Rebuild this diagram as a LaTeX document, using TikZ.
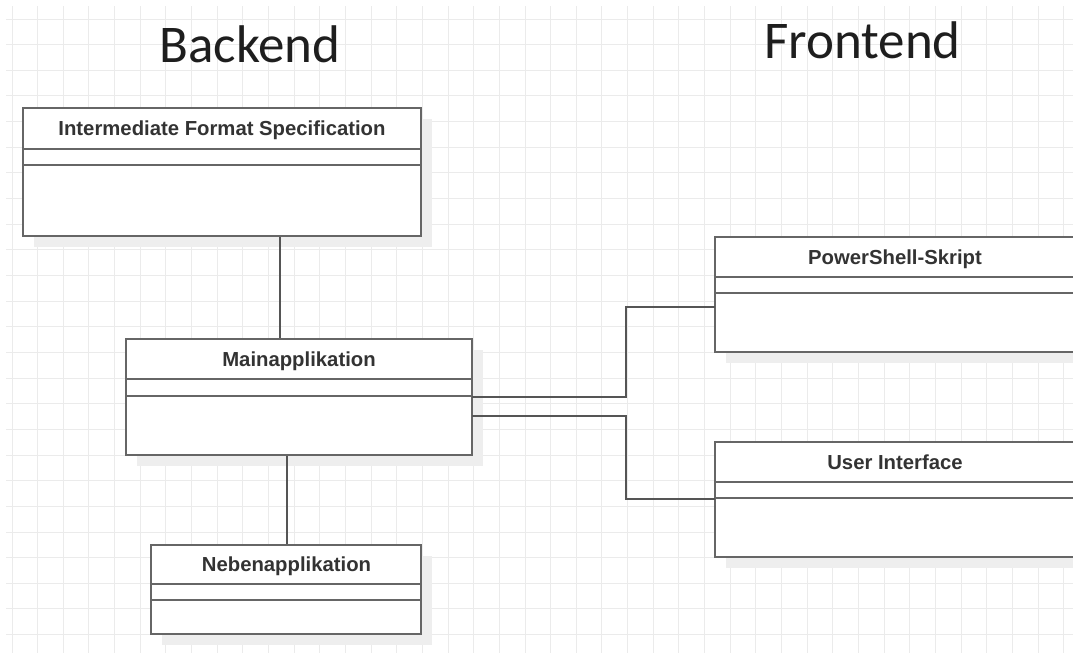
\documentclass[tikz,border=0pt]{standalone}
\usepackage{fontspec}
\setmainfont{Liberation Sans}
\newfontfamily\titlefont{Carlito}
\usetikzlibrary{calc}
\definecolor{gridc}{HTML}{EBEBEB}
\definecolor{boxc}{HTML}{666666}
\definecolor{connc}{HTML}{555555}
\definecolor{shadowc}{HTML}{EEEEEE}
\definecolor{txtc}{HTML}{333333}
\definecolor{titlec}{HTML}{1E1E1E}
\tikzset{
  clsbox/.style={draw=boxc, line width=2.3pt, fill=white, anchor=north west, inner sep=0pt, outer sep=0pt},
  shadowbox/.style={fill=shadowc, draw=none, anchor=north west, inner sep=0pt, outer sep=0pt},
  divider/.style={draw=boxc, line width=2pt},
  conn/.style={draw=connc, line width=2pt},
  clslabel/.style={font=\fontsize{20.3}{24}\selectfont\bfseries, text=txtc, anchor=base, inner sep=0pt},
  titlelabel/.style={font=\titlefont\fontsize{53}{60}\selectfont, text=titlec, anchor=base, inner sep=0pt}
}
\begin{document}
\begin{tikzpicture}[x=1pt,y=-1pt]
\useasboundingbox (0,0) rectangle (1073,653);
\clip (0,0) rectangle (1073,653);
\fill[white] (0,0) rectangle (1073,653);
% grid
\foreach \i in {0,...,41} {
  \draw[gridc, line width=1pt] ({12+25.65*\i},6) -- ({12+25.65*\i},653);
}
\foreach \j in {0,...,25} {
  \draw[gridc, line width=1pt] (6,{19+25.65*\j}) -- (1073,{19+25.65*\j});
}
% titles
\node[titlelabel] (tback) at (250,62) {Backend};
\node[titlelabel] (tfront) at (862.5,58) {Frontend};
% shadows
\node[shadowbox, minimum width=398pt, minimum height=128pt] (ifsS) at (34,119) {};
\node[shadowbox, minimum width=346pt, minimum height=116pt] (mainS) at (137,350) {};
\node[shadowbox, minimum width=270pt, minimum height=89pt] (nebS) at (162,556) {};
\node[shadowbox, minimum width=360pt, minimum height=115pt] (psS) at (726,248) {};
\node[shadowbox, minimum width=360pt, minimum height=115pt] (uiS) at (726,453) {};
% connectors
\draw[conn] (280,236) -- (280,339);
\draw[conn] (287,455) -- (287,545);
% boxes
\node[clsbox, minimum width=398pt, minimum height=128pt] (ifs) at (23,108) {};
\node[clsbox, minimum width=346pt, minimum height=116pt] (main) at (126,339) {};
\node[clsbox, minimum width=270pt, minimum height=89pt] (neb) at (151,545) {};
\node[clsbox, minimum width=360pt, minimum height=115pt] (ps) at (715,237) {};
\node[clsbox, minimum width=360pt, minimum height=115pt] (ui) at (715,442) {};
% dividers
\draw[divider] (ifs.west |- 0,149) -- (ifs.east |- 0,149);
\draw[divider] (ifs.west |- 0,165) -- (ifs.east |- 0,165);
\draw[divider] (main.west |- 0,379) -- (main.east |- 0,379);
\draw[divider] (main.west |- 0,396) -- (main.east |- 0,396);
\draw[divider] (neb.west |- 0,584) -- (neb.east |- 0,584);
\draw[divider] (neb.west |- 0,600) -- (neb.east |- 0,600);
\draw[divider] (ps.west |- 0,277) -- (ps.east |- 0,277);
\draw[divider] (ps.west |- 0,293) -- (ps.east |- 0,293);
\draw[divider] (ui.west |- 0,482) -- (ui.east |- 0,482);
\draw[divider] (ui.west |- 0,498) -- (ui.east |- 0,498);
% labels
\node[clslabel] (ifsT) at (222,135.5) {Intermediate Format Specification};
\node[clslabel] (mainT) at (299,366) {Mainapplikation};
\node[clslabel] (nebT) at (286.5,571.5) {Nebenapplikation};
\node[clslabel] (psT) at (895,264) {PowerShell-Skript};
\node[clslabel] (uiT) at (895,469) {User Interface};
% connectors main -> frontend
\draw[conn] (main.east |- 0,397) -- (626,397) |- (ps.west |- 0,307);
\draw[conn] (main.east |- 0,416) -- (626,416) |- (ui.west |- 0,499);
\end{tikzpicture}
\end{document}
